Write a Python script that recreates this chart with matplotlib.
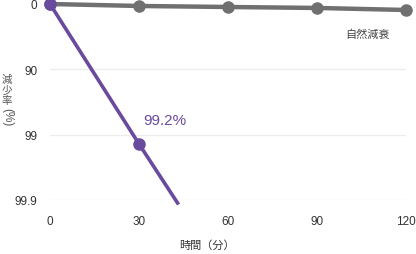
import numpy as np
import matplotlib.pyplot as plt

plt.rcParams['font.family'] = ['Liberation Sans', 'Noto Sans CJK JP']

# data (reduction rate in %)
times = [0, 30, 60, 90, 120]
natural = [0, 6.7, 10, 13, 19]
treat_t = [0, 30, 43]
treat = [0, 99.28, 99.91]
yticks = [0, 90, 99, 99.9]
xticks = [0, 30, 60, 90, 120]

def to_log(p):
    return -np.log10(1 - np.array(p) / 100.0)

fig = plt.figure(figsize=(4.16, 2.55), dpi=100)
ax = fig.add_axes([50/416, 54/255, 356/416, 196/255])

purple = '#6a4a9e'
gray = '#707070'

ax.plot(times, to_log(natural), color=gray, lw=3.2, marker='o', ms=8,
        clip_on=False, zorder=3)
ax.plot(treat_t, to_log(treat), color=purple, lw=2.6, clip_on=False, zorder=4)
ax.plot(treat_t[:2], to_log(treat[:2]), color=purple, lw=0, marker='o', ms=8,
        clip_on=False, zorder=5)

ax.set_xlim(0, 120)
ax.set_ylim(3.0, 0)
ax.set_yticks(to_log(yticks[:3]).tolist() + [3.0])
ax.set_yticklabels(['0', '90', '99', '99.9'])
ax.set_xticks(xticks)
ax.set_xticklabels([str(v) for v in xticks])

for v in [1, 2, 3]:
    ax.axhline(v, color='#ececec', lw=0.9, zorder=0)

for s in ax.spines.values():
    s.set_visible(False)
ax.tick_params(length=0, labelsize=8.5, colors='#333333')
ax.tick_params(axis='y', pad=9)
ax.tick_params(axis='x', pad=11)

ax.text(31.3, 1.88, '99.2%', color=purple, fontsize=11, ha='left', va='bottom')
ax.text(107, 0.46, '自然減衰', color='#444444', fontsize=8, ha='center', va='center',
        family=['Noto Sans CJK JP'])

fig.text(207/416, 1 - 246/255, '時間（分）', ha='center', va='center',
         fontsize=8, color='#333333', family=['Noto Sans CJK JP'])

# vertical y label
for i, ch in enumerate(['減', '少', '率']):
    fig.text(7/416, 1 - (80 + i * 10.5)/255, ch, ha='center', va='center',
             fontsize=7.5, color='#555555', family=['Noto Sans CJK JP'])
fig.text(7/416, 1 - 117/255, '(%)', ha='center', va='center', rotation=270,
         fontsize=8.5, color='#555555')

fig.savefig('out.png', dpi=100)
